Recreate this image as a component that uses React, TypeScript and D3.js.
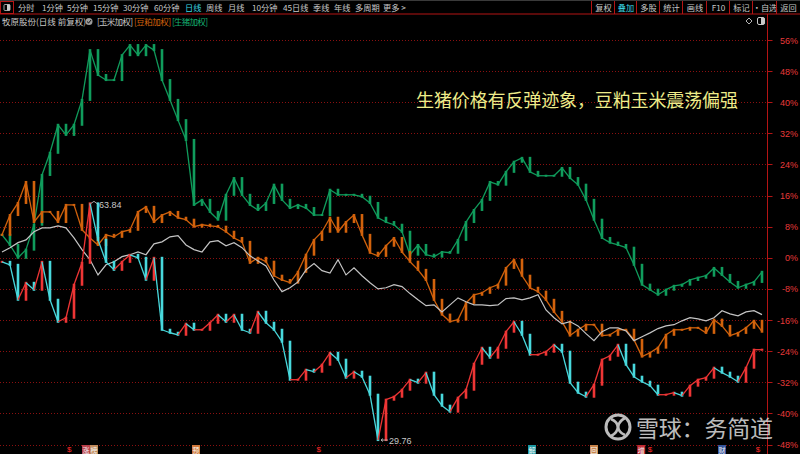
import React from 'react';
import * as d3 from 'd3';

// ---------- data ----------
const pctTicks = [56, 48, 40, 32, 24, 16, 8, 0, -8, -16, -24, -32, -40, -48];
const periodTabs = ['分时', '1分钟', '5分钟', '15分钟', '30分钟', '60分钟', '日线', '周线', '月线', '10分钟', '45日线', '季线', '年线', '多周期', '更多 >'];
const toolButtons = ['复权', '叠加', '多股', '统计', '画线', 'F10', '标记', '•自选', '返回'];
const stockTitle = '牧原股份(日线 前复权)';
const overlayNames = ['[玉米加权]', '[豆粕加权]', '[生猪加权]'];
const annotation = '生猪价格有反弹迹象，豆粕玉米震荡偏强';
const watermark = '雪球：务简道';

const mainBase = 56; // price at 0%
const mainClose = [
  55.42, 54.99, 49.96, 52.40, 51.40, 55.42, 49.96, 46.79, 47.37, 52.12,
  55.28, 63.84, 58.59, 55.42, 54.27, 55.42, 56.43, 56.00, 52.84, 56.00,
  45.64, 45.21, 44.92, 46.51, 45.64, 45.64, 46.65, 47.80, 46.79, 47.80,
  45.64, 45.21, 48.23, 46.65, 45.64, 43.92, 38.45, 38.45, 39.89, 39.60,
  40.61, 42.33, 41.33, 38.74, 39.60, 38.88, 36.29, 29.76, 35.57, 36.00,
  37.01, 38.45, 38.02, 39.46, 36.29, 34.71, 33.85, 35.86, 37.01, 40.75,
  43.05, 41.62, 43.05, 45.36, 46.79, 44.92, 42.05, 42.05, 42.48, 43.48,
  42.48, 38.02, 36.58, 36.00, 37.73, 41.33, 41.90, 43.48, 40.61, 38.88,
  38.16, 37.59, 36.29, 36.29, 36.58, 36.15, 37.59, 38.45, 38.74, 40.18,
  39.46, 38.88, 38.16, 40.18, 42.77, 42.77,
];
const soyPct = [
  5.9, 11.0, 14.1, 19.5, 9.2, 11.8, 11.8, 9.2, 13.6, 13.6,
  7.2, 5.1, 3.3, 5.9, 5.4, 6.7, 7.2, 11.8, 13.1, 9.2,
  11.0, 11.8, 10.3, 9.8, 8.0, 8.5, 8.2, 8.0, 6.7, 5.1,
  4.1, -1.3, 0, -1.0, -4.6, -5.7, -6.4, -3.6, 0.8, 4.6,
  6.7, 10.3, 6.7, 9.2, 11.0, 5.9, 1.3, 0.5, 3.1, 5.1,
  1.5, -1.0, -3.1, -5.7, -10.8, -14.6, -16.4, -15.9, -11.6, -9.5,
  -9.0, -7.7, -6.9, -2.6, -0.5, -4.6, -7.7, -8.7, -10.8, -13.9,
  -16.4, -20.0, -18.5, -17.2, -17.2, -20.0, -19.8, -18.5, -18.5, -21.1,
  -25.4, -24.4, -23.1, -19.8, -18.5, -18.5, -18.0, -18.0, -19.3, -15.9,
  -17.5, -20.0, -19.3, -18.0, -16.2, -19.0,
];
const hogPct = [
  5.9, 3.3, 0, 2.1, 8.5, 21.3, 27.0, 34.2, 31.6, 34.2,
  40.6, 53.4, 47.0, 45.7, 45.7, 52.1, 54.7, 52.1, 54.7, 53.4,
  45.7, 40.6, 35.4, 30.3, 13.6, 14.9, 11.8, 9.8, 16.2, 20.5,
  16.2, 13.6, 12.3, 14.1, 18.8, 14.9, 12.8, 13.6, 12.8, 11.0,
  11.0, 17.5, 16.2, 16.2, 16.2, 15.7, 14.1, 10.3, 9.2, 8.5,
  6.7, 0.8, 3.3, 0.8, 0.3, 1.5, 1.3, 4.6, 9.2, 12.3,
  14.9, 19.5, 18.8, 22.1, 24.7, 25.7, 22.1, 21.1, 21.1, 21.1,
  23.1, 20.5, 18.8, 14.9, 9.8, 5.1, 3.9, 3.3, 2.6, -1.8,
  -6.9, -8.2, -9.5, -8.2, -7.2, -6.9, -5.7, -5.1, -4.6, -2.6,
  -4.4, -6.2, -7.7, -6.9, -6.2, -3.6,
];
const cornPct = [
  1.5, 2.6, 3.9, 4.6, 6.7, 7.7, 7.7, 8.2, 7.7, 5.1,
  2.1, -0.5, -4.4, -1.8, -1.0, 0.3, 0.8, 1.5, 0.8, 3.6,
  4.1, 5.4, 5.7, 3.3, 2.1, 1.5, 4.1, 4.4, 3.1, 3.9,
  2.6, 0.5, -0.8, -2.1, -5.7, -8.7, -7.7, -6.2, -3.1, -1.5,
  -3.3, -3.9, -0.5, -4.4, -2.6, -4.6, -6.4, -8.0, -7.7, -6.9,
  -7.4, -9.2, -10.8, -12.3, -12.1, -13.9, -12.1, -10.3, -11.3, -12.1,
  -12.1, -12.3, -12.1, -10.5, -10.3, -10.8, -10.3, -9.5, -13.4, -15.4,
  -17.0, -16.4, -17.5, -19.5, -21.3, -19.0, -18.0, -18.0, -18.8, -21.3,
  -20.3, -19.3, -18.2, -17.5, -17.2, -16.2, -15.4, -15.7, -16.2, -15.4,
  -13.6, -14.4, -14.9, -13.9, -13.6, -14.6,
];
const eventIdx = [8.4, 10.5, 11.5, 24.25, 39.6, 66.25, 74, 79.9, 81, 90, 94.5];
const eventLabels = ['$', '涨', '榜', '预', '$', '解', '回', '增', '$', '财', '$'];

// ---------- styles ----------
const BG = '#000000';
const GRID = '#8a1010';
const AXIS = '#b41414';
const LABEL_RED = '#e83a3a';
const UP = '#ee3535';
const DOWN = '#48d8dc';
const SOY = '#d2620c';
const HOG = '#109c5c';
const CORN = '#c4c4c4';
const TXT = '#c8c8c8';
const CYAN_TXT = '#3ad6e0';
const CJK = '"Noto Sans CJK SC", "Noto Sans", sans-serif';
const LAT = '"Liberation Sans", Arial, sans-serif';

const eventColors: Record<string, string> = {
  '涨': '#b8404a', '榜': '#c08a5a', '预': '#d0783a', '解': '#1e9aa4',
  '回': '#c8844a', '增': '#c02830', '财': '#34559c',
};

const W = 800;
const H = 454;
const PLOT_R = 767.5;

export default function App() {
  const n = mainClose.length;
  const x = d3.scaleLinear().domain([0, n - 1]).range([2, 762]);
  const y = d3.scaleLinear().domain([-48, 56]).range([444.5, 40]);
  const mainPct = (p: number) => (p / mainBase - 1) * 100;
  const id = (v: number) => v;

  // candle body spans previous close -> close, with a thin stroke linking it to the previous bar
  const candleMarks = (vals: number[], toPct: (v: number) => number, color: (up: boolean) => string, key: string) =>
    vals.map((v, i) => {
      const o = toPct(i > 0 ? vals[i - 1] : v);
      const c = toPct(v);
      const y1 = y(Math.max(o, c));
      const y2 = y(Math.min(o, c));
      const col = color(c >= o);
      return (
        <g key={key + i}>
          {i > 0 && (
            <line x1={x(i - 1)} y1={y(o)} x2={x(i)} y2={y(c)} stroke={col} strokeWidth={1.3} />
          )}
          <rect x={x(i) - 1.3} y={y1 - 1} width={2.6} height={Math.max(2, y2 - y1 + 2)} fill={col} />
        </g>
      );
    });

  const lineGen = (toPct: (v: number) => number) =>
    d3.line<number>().x((_, i) => x(i)).y((v) => y(toPct(v))).curve(d3.curveLinear);

  const maxI = d3.maxIndex(mainClose);
  const minI = d3.minIndex(mainClose);
  const maxV = mainClose[maxI];
  const minV = mainClose[minI];

  // toolbar layout
  const tabX = [18, 42, 67, 93, 123, 154, 185, 206, 228, 252, 283, 313, 334, 355, 383];
  const sepX = [592, 615, 637, 660, 683, 707, 730, 753, 777, 800];

  return (
    <>
      <style>{`body{margin:0;background:#000;} svg{display:block}`}</style>
      <svg width={W} height={H} viewBox={`0 0 ${W} ${H}`} style={{ background: BG }}>
        <rect x={0} y={0} width={W} height={H} fill={BG} />
        {/* top toolbar */}
        <line x1={0} x2={W} y1={0.5} y2={0.5} stroke="#3a3a3a" />
        <rect x={0.5} y={1.5} width={13} height={12} fill="none" stroke={AXIS} />
        <rect x={4} y={4.5} width={6} height={6} rx={1} fill="none" stroke={TXT} strokeWidth={0.8} />
        <rect x={7} y={4.5} width={3} height={6} fill={TXT} />
        {periodTabs.map((t, i) => (
          <text key={t} x={tabX[i]} y={10.5} fontSize={8.2} fontFamily={CJK} fill={t === '日线' ? CYAN_TXT : TXT}>
            {t}
          </text>
        ))}
        {toolButtons.map((t, i) => (
          <g key={t}>
            <line x1={sepX[i] - 0.5} x2={sepX[i] - 0.5} y1={1} y2={14} stroke={AXIS} />
            <text x={(sepX[i] + sepX[i + 1]) / 2} y={10.5} fontSize={8.2} fontFamily={CJK} textAnchor="middle"
              fill={t === '叠加' ? CYAN_TXT : TXT}>{t}</text>
          </g>
        ))}
        <line x1={0} x2={W} y1={14} y2={14} stroke={AXIS} />

        {/* second row */}
        <text x={2} y={25} fontSize={8.5} fontFamily={CJK} fill={TXT}>{stockTitle}</text>
        <circle cx={89} cy={21.5} r={3.5} fill="#9a9a9a" />
        <path d="M87 21.5 L88.6 23 L91 20" stroke="#000" strokeWidth={0.9} fill="none" />
        <text x={97} y={25} fontSize={8.5} fontFamily={CJK} fill={TXT} textLength={36}>{overlayNames[0]}</text>
        <text x={134} y={25} fontSize={8.5} fontFamily={CJK} fill={SOY} textLength={37}>{overlayNames[1]}</text>
        <text x={172} y={25} fontSize={8.5} fontFamily={CJK} fill="#14b070" textLength={36}>{overlayNames[2]}</text>
        <path d="M749 18 L752 21 L749 24 L746 21 Z" fill="none" stroke={TXT} strokeWidth={0.9} />
        <rect x={757.5} y={17.5} width={7} height={7} rx={1.5} fill="none" stroke={TXT} />
        <rect x={761} y={18} width={3.5} height={6} fill={TXT} />

        {/* grid */}
        {pctTicks.map((t) => (
          <g key={'g' + t}>
            <line x1={0} x2={PLOT_R} y1={Math.round(y(t)) + 0.5} y2={Math.round(y(t)) + 0.5}
              stroke={GRID} strokeDasharray="1 2" />
            <line x1={PLOT_R} x2={PLOT_R + 5} y1={Math.round(y(t)) + 0.5} y2={Math.round(y(t)) + 0.5} stroke={AXIS} />
            <text x={798} y={y(t) + 3.5} fontSize={9} fontFamily={LAT} fill={LABEL_RED} textAnchor="end">
              {t + '%'}
            </text>
          </g>
        ))}
        <line x1={PLOT_R} x2={PLOT_R} y1={14} y2={H} stroke={AXIS} />

        {/* hog (green) */}
        {candleMarks(hogPct, id, () => HOG, 'h')}
        {/* soybean meal (orange) */}
        {candleMarks(soyPct, id, () => SOY, 's')}
        {/* corn (white line) */}
        <path d={lineGen(id)(cornPct) || ''} fill="none" stroke={CORN} strokeWidth={1.2} />
        {/* main stock */}
        {candleMarks(mainClose, mainPct, (up) => (up ? UP : DOWN), 'm')}

        {/* extremes */}
        <path d={`M${x(maxI) + 1},${y(mainPct(maxV))} l3,-2 l4,3`} fill="none" stroke={TXT} strokeWidth={0.8} />
        <text x={x(maxI) + 9} y={y(mainPct(maxV)) + 5} fontSize={9} fontFamily={LAT} fill={TXT}>{maxV.toFixed(2)}</text>
        <path d={`M${x(minI) + 3},${y(mainPct(minV))} l7,0 M${x(minI) + 3},${y(mainPct(minV))} l2,-1.5 M${x(minI) + 3},${y(mainPct(minV))} l2,1.5`}
          fill="none" stroke={TXT} strokeWidth={0.8} />
        <text x={x(minI) + 11} y={y(mainPct(minV)) + 3.5} fontSize={9} fontFamily={LAT} fill={TXT}>{minV.toFixed(2)}</text>

        {/* annotation */}
        <text x={416} y={107} fontSize={18} fontFamily={CJK} fill="#eeec8a" textLength={322}>{annotation}</text>

        {/* watermark */}
        <g opacity={0.88}>
          <circle cx={618} cy={427} r={12} fill="none" stroke="#d6d6d6" strokeWidth={3} />
          <path d="M611 419 C620 423 620 431 611 436" fill="none" stroke="#d6d6d6" strokeWidth={2.6} />
          <path d="M625 418 C616 423 616 431 625 435" fill="none" stroke="#d6d6d6" strokeWidth={2.6} />
          <text x={636} y={437} fontSize={23} fontFamily={CJK} fill="#d6d6d6" textLength={137}>{watermark}</text>
        </g>

        {/* event markers */}
        {eventLabels.map((lab, i) => {
          const cx = x(eventIdx[i]);
          if (lab === '$') {
            return (
              <text key={'e' + i} x={cx} y={452} fontSize={8} fontFamily={LAT} fill="#ff2a2a" textAnchor="middle">$</text>
            );
          }
          return (
            <g key={'e' + i}>
              <rect x={cx - 4} y={445} width={8} height={9} fill={eventColors[lab]} />
              <text x={cx} y={452.5} fontSize={7} fontFamily={CJK} fill="#f4f4f4" textAnchor="middle">{lab}</text>
            </g>
          );
        })}
      </svg>
    </>
  );
}
